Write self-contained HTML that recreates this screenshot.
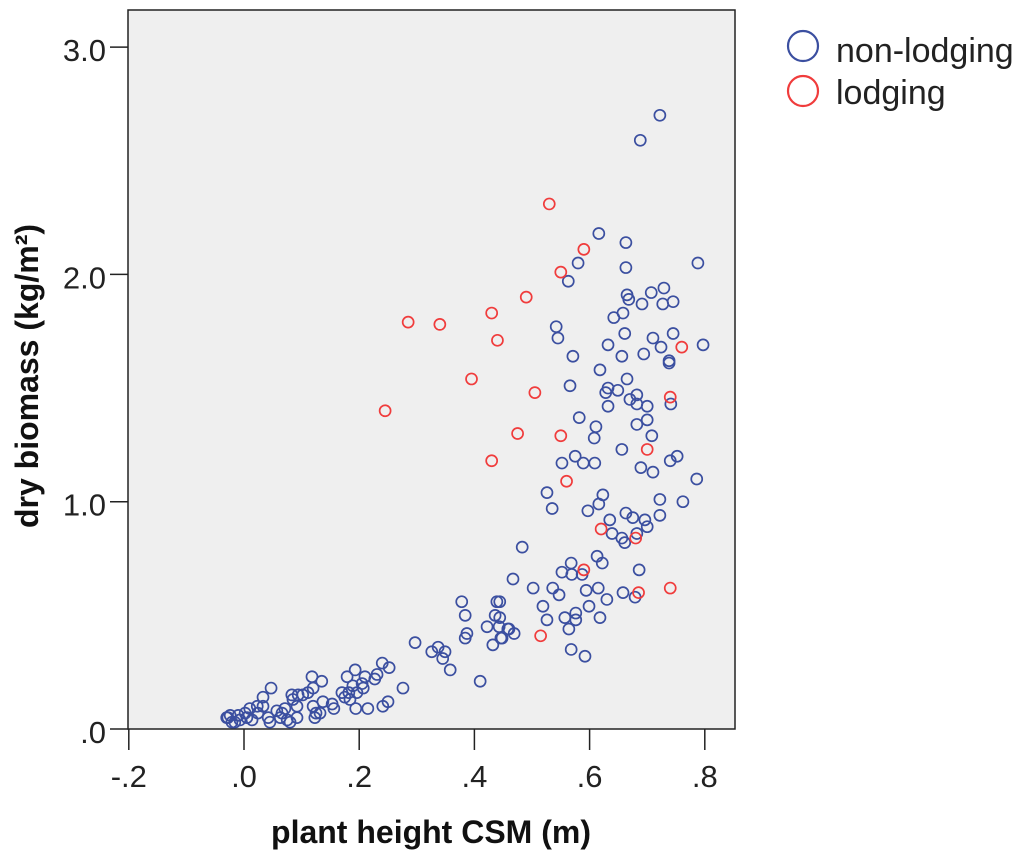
<!DOCTYPE html>
<html><head><meta charset="utf-8"><style>
body{margin:0;background:#fff;width:1024px;height:861px;overflow:hidden}
svg{display:block;font-family:"Liberation Sans",Arial,sans-serif}
</style></head><body>
<svg id="chart" width="1024" height="861">
<rect x="128" y="10" width="607" height="719" fill="#efefef" stroke="#222" stroke-width="1.5"/>
<g id="axes"></g>
<g id="marks"></g>
<text x="431" y="843" font-size="32" font-weight="bold" text-anchor="middle" fill="#111">plant height CSM (m)</text>
<text transform="translate(38,376) rotate(-90)" font-size="32" font-weight="bold" text-anchor="middle" fill="#111">dry biomass (kg/m²)</text>
<g>
<circle cx="803" cy="46" r="15" fill="none" stroke="#3b4fa0" stroke-width="2.2"/>
<text x="836" y="62" font-size="34" fill="#222">non-lodging</text>
<circle cx="803" cy="91" r="15" fill="none" stroke="#f03c3c" stroke-width="2.2"/>
<text x="836" y="104" font-size="34" fill="#222">lodging</text>
</g>
</svg>
<script>
const xTicks=[-0.2,0,0.2,0.4,0.6,0.8];
const xTickLabels=["-.2",".0",".2",".4",".6",".8"];
const yTicks=[0,1,2,3];
const yTickLabels=[".0","1.0","2.0","3.0"];
const lodgingX=[.53,.59,.55,.49,.43,.34,.285,.44,.395,.505,.245,.475,.55,.43,.56,.70,.62,.68,.59,.74,.685,.515,.76,.74];
const lodgingY=[2.31,2.11,2.01,1.90,1.83,1.78,1.79,1.71,1.54,1.48,1.40,1.30,1.29,1.18,1.09,1.23,.88,.84,.70,.62,.60,.41,1.68,1.46];
const nonLodgingX=[.722,.688,.616,.663,.663,.788,.580,.563,.665,.668,.707,.729,.691,.727,.745,.642,.658,.542,.545,.661,.632,.710,.745,.797,.724,.656,.694,.571,.738,.738,.618,.566,.665,.632,.628,.649,.670,.682,.682,.700,.741,.632,.700,.682,.582,.611,.608,.708,.656,.740,.752,.552,.575,.589,.609,.689,.710,.786,.526,.535,.623,.616,.597,.722,.762,.722,.663,.675,.696,.700,.635,.639,.656,.661,.682,.483,.613,.622,.568,.552,.569,.587,.686,.467,.502,.536,.547,.594,.615,.630,.658,.679,.444,.444,.460,.469,.448,.519,.526,.557,.576,.576,.564,.599,.618,.568,.592,.378,.439,.384,.436,.422,.443,.458,.387,.384,.446,.432,.297,.326,.337,.349,.345,.358,.410,.240,.252,.276,.231,.227,.210,.193,.179,.205,.189,.207,.170,.182,.175,.196,.184,.194,.215,.241,.250,.118,.135,.120,.111,.102,.094,.083,.085,.092,.120,.137,.153,.156,.125,.132,.123,.047,.033,.033,.023,.010,.002,-.010,-.024,-.030,-.016,.005,.014,.042,.045,.057,.066,.071,.063,.075,.080,.092,.024,-.028,-.021,-.007];
const nonLodgingY=[2.70,2.59,2.18,2.14,2.03,2.05,2.05,1.97,1.91,1.89,1.92,1.94,1.87,1.87,1.88,1.81,1.83,1.77,1.72,1.74,1.69,1.72,1.74,1.69,1.68,1.64,1.65,1.64,1.62,1.61,1.58,1.51,1.54,1.50,1.48,1.49,1.45,1.47,1.43,1.42,1.43,1.42,1.36,1.34,1.37,1.33,1.28,1.29,1.23,1.18,1.20,1.17,1.20,1.17,1.17,1.15,1.13,1.10,1.04,.97,1.03,.99,.96,1.01,1.00,.94,.95,.93,.92,.89,.92,.86,.84,.82,.86,.80,.76,.73,.73,.69,.68,.68,.70,.66,.62,.62,.59,.61,.62,.57,.60,.58,.56,.49,.44,.42,.40,.54,.48,.49,.51,.48,.44,.54,.49,.35,.32,.56,.56,.50,.50,.45,.45,.44,.42,.40,.40,.37,.38,.34,.36,.34,.31,.26,.21,.29,.27,.18,.24,.22,.23,.26,.23,.20,.19,.18,.16,.16,.14,.16,.13,.09,.09,.10,.12,.23,.21,.18,.16,.15,.15,.15,.13,.10,.10,.12,.11,.09,.07,.07,.05,.18,.14,.10,.10,.09,.07,.06,.06,.05,.03,.05,.04,.05,.03,.08,.07,.09,.05,.04,.03,.05,.07,.05,.03,.04];
const NS="http://www.w3.org/2000/svg";
function xScale(v){return 244+(v-0)*576;}
function yScale(v){return 729-v*227.3;}
const axes=document.getElementById('axes');
const marks=document.getElementById('marks');
function mk(tag,attrs,parent){const e=document.createElementNS(NS,tag);for(const k in attrs)e.setAttribute(k,attrs[k]);parent.appendChild(e);return e;}
xTicks.forEach((t,i)=>{
  const x=xScale(t);
  const l=mk('line',{x1:x,x2:x,y1:729,y2:750,stroke:'#222','stroke-width':1.5},axes);
  
  
  const tx=mk('text',{x:x,y:787,'font-size':31,'text-anchor':'middle',fill:'#222'},axes);
  tx.textContent=xTickLabels[i];
  
  
});
yTicks.forEach((t,i)=>{
  const y=yScale(t);
  const l=mk('line',{x1:110,x2:128,y1:y,y2:y,stroke:'#222','stroke-width':1.5},axes);
  
  
  const tx=mk('text',{x:106,y:y+14,'font-size':31,'text-anchor':'end',fill:'#222'},axes);
  tx.textContent=yTickLabels[i];
  
  
});
nonLodgingX.forEach((v,i)=>{
  const c=mk('circle',{cx:xScale(v),cy:yScale(nonLodgingY[i]),r:5.5,fill:'none',stroke:'#3b4fa0','stroke-width':1.7},marks);
  
  
});
lodgingX.forEach((v,i)=>{
  const c=mk('circle',{cx:xScale(v),cy:yScale(lodgingY[i]),r:5.5,fill:'none',stroke:'#f03c3c','stroke-width':1.7},marks);
  
  
});
</script>
</body></html>
